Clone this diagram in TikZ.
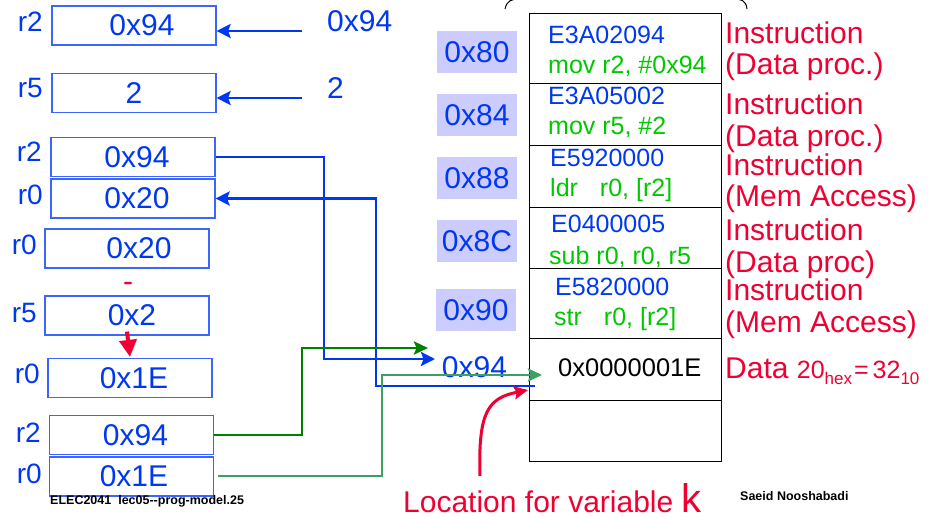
\documentclass[tikz,border=0pt]{standalone}
\usepackage{fontspec}
\setmainfont{Liberation Sans}
\usetikzlibrary{arrows.meta}
\definecolor{tblue}{RGB}{0,56,240}
\definecolor{bblue}{RGB}{60,100,255}
\definecolor{tgreen}{RGB}{0,200,0}
\definecolor{tred}{RGB}{240,0,50}
\definecolor{dgreen}{RGB}{0,128,0}
\definecolor{sgreen}{RGB}{60,160,100}
\definecolor{abg}{RGB}{204,204,255}
\newcommand{\myfs}[1]{\fontsize{#1}{#1}\selectfont}
\tikzset{
  regbox/.style={draw=bblue, line width=1.2pt, minimum width=164pt, minimum height=39pt,
    inner sep=0pt, text=tblue, font=\myfs{30}},
  reglbl/.style={anchor=base east, inner sep=0pt, text=tblue, font=\myfs{28}},
  memrow/.style={draw=black, line width=1.1pt, minimum width=192pt, anchor=north west, inner sep=0pt},
  hexcode/.style={anchor=base west, inner sep=0pt, text=tblue, font=\myfs{25}},
  asmcode/.style={anchor=base west, inner sep=0pt, text=tgreen, font=\myfs{25}},
  kindlbl/.style={anchor=base west, inner sep=0pt, text=tred, font=\myfs{30}},
  addrbox/.style={fill=abg, minimum width=80pt, minimum height=42pt, inner sep=0pt, text=tblue, font=\myfs{30}},
  bwire/.style={draw=tblue, line width=2.8pt, -{Stealth[length=14pt,width=14pt,inset=2.5pt]}},
  gwire/.style={line width=2.8pt, -{Stealth[length=14pt,width=13pt,inset=2.5pt]}},
}
\begin{document}
\begin{tikzpicture}[x=1pt,y=-1pt]
\useasboundingbox (0,0) rectangle (928,518);

% top arc (cut off)
\draw[line width=1pt] (505,9) .. controls (507,0) and (512,-1) .. (520,-1) -- (733,-1) .. controls (741,-1) and (746,0) .. (747,9);

% register boxes
\node[regbox] (r1) at (134,25.5) {\hspace*{16pt}0x94};
\node[regbox] (r2) at (134,93) {2};
\node[regbox] (r3) at (133,157) {\hspace*{8pt}0x94};
\node[regbox] (r4) at (133,198.5) {\hspace*{8pt}0x20};
\node[regbox] (r5) at (127,248.5) {\hspace*{24pt}0x20};
\node[regbox] (r6) at (127,315.5) {\hspace*{10pt}0x2};
\node[regbox] (r7) at (130,378) {\hspace*{8pt}0x1E};
\node[regbox] (r8) at (131.5,435) {\hspace*{8pt}0x94};
\node[regbox] (r9) at (131.5,476.5) {\hspace*{5pt}0x1E};

\node[reglbl] (l1) at (43,32) {r2};
\node[reglbl] (l2) at (43,98) {r5};
\node[reglbl] (l3) at (42,162) {r2};
\node[reglbl] (l4) at (43,205) {r0};
\node[reglbl] (l5) at (37,255) {r0};
\node[reglbl] (l6) at (37,323) {r5};
\node[reglbl] (l7) at (40,383) {r0};
\node[reglbl] (l8) at (41,442) {r2};
\node[reglbl] (l9) at (42,483) {r0};

% immediate inputs
\node[anchor=base west, inner sep=0pt, text=tblue, font=\myfs{30}] (in1) at (327,32) {0x94};
\node[anchor=base west, inner sep=0pt, text=tblue, font=\myfs{30}] (in2) at (327,99) {2};
\coordinate (c1) at (302,31);
\coordinate (c2) at (302,98);
\draw[bwire] (c1) -- (c1 -| r1.east);
\draw[bwire] (c2) -- (c2 -| r2.east);

% subtraction
\node[anchor=base, inner sep=0pt, text=tred, font=\myfs{30}] (minus) at (128,292) {-};
\draw[tred, line width=4pt, -{Triangle[length=17pt,width=17pt]}] ([yshift=4pt]r6.south) -- ([yshift=1pt]r7.north);

% memory
\node[memrow, minimum height=70pt] (m1) at (529,13) {};
\node[memrow, minimum height=62pt] (m2) at (529,83) {};
\node[memrow, minimum height=62pt] (m3) at (529,145) {};
\node[memrow, minimum height=61pt] (m4) at (529,207) {};
\node[memrow, minimum height=70pt] (m5) at (529,268) {};
\node[memrow, minimum height=62pt] (m6) at (529,338) {};
\node[memrow, minimum height=61pt] (m7) at (529,400) {};

\node[hexcode] (h1) at (548,44) {E3A02094};
\node[asmcode] (s1) at (548,74) {mov r2, \#0x94};
\node[hexcode] (h2) at (548,105) {E3A05002};
\node[asmcode] (s2) at (548,135) {mov r5, \#2};
\node[hexcode] (h3) at (550,167) {E5920000};
\node[asmcode] (s3) at (550,197) {ldr\hspace{22pt}r0, [r2]};
\node[hexcode] (h4) at (551,233) {E0400005};
\node[asmcode] (s4) at (549,265) {sub r0, r0, r5};
\node[hexcode] (h5) at (555,295) {E5820000};
\node[asmcode] (s5) at (554,326) {str\hspace{22pt}r0, [r2]};
\node[anchor=base west, inner sep=0pt, font=\myfs{25.5}] (d6) at (558,376) {0x0000001E};

% addresses
\node[addrbox] (a80) at (477,52.5) {0x80};
\node[addrbox] (a84) at (477,115.5) {0x84};
\node[addrbox] (a88) at (477,178) {0x88};
\node[addrbox] (a8C) at (477,241) {0x8C};
\node[addrbox] (a90) at (476,310) {0x90};
\node[anchor=base, inner sep=0pt, text=tblue, font=\myfs{30}] (a94) at (474.5,377) {0x94};

% kind labels
\node[kindlbl] (k1a) at (725,44) {Instruction};
\node[kindlbl] (k1b) at (725,75) {(Data proc.)};
\node[kindlbl] (k2a) at (725,115) {Instruction};
\node[kindlbl] (k2b) at (725,147) {(Data proc.)};
\node[kindlbl] (k3a) at (725,176) {Instruction};
\node[kindlbl] (k3b) at (725,207) {(Mem Access)};
\node[kindlbl] (k4a) at (725,241) {Instruction};
\node[kindlbl] (k4b) at (725,273) {(Data proc)};
\node[kindlbl] (k5a) at (725,301) {Instruction};
\node[kindlbl] (k5b) at (725,332) {(Mem Access)};
\node[kindlbl] (k6) at (725,378) {Data \myfs{25}20\raisebox{-6pt}{\myfs{17}hex}\hspace{2pt}=\hspace{4pt}32\raisebox{-6pt}{\myfs{17}10}};

% wires
\coordinate (w1) at (324,359);
\coordinate (t1) at (435,359);
\draw[bwire] (r3.east) -| (w1) -- (t1);

\coordinate (w2s) at (535,386);
\coordinate (w2) at (376,386);
\draw[bwire] (w2s) -- (w2) |- (r4.east);

\coordinate (w3) at (302,348);
\coordinate (t3) at (428,348);
\draw[gwire, dgreen] (r8.east) -| (w3) -- (t3);

\coordinate (w4s) at (218,476);
\coordinate (w4) at (382,375);
\coordinate (t4) at (542,375);
\draw[gwire, sgreen] (w4s) -| (w4) -- (t4);

% location label
\node[anchor=base west, inner sep=0pt, text=tred, font=\myfs{30}] (loc) at (403,512) {Location for variable \myfs{40}k};
\coordinate (rc1) at (480,476);
\coordinate (rc2) at (528,390);
\draw[tred, line width=3pt, -{Stealth[length=14pt,width=13pt,inset=2.5pt]}] (rc1) .. controls (478,412) and (488,398) .. (rc2);

% footers
\node[anchor=base west, inner sep=0pt, font=\bfseries\myfs{12.5}] (foot1) at (50,504) {ELEC2041\ \ lec05-{}-prog-model.25};
\node[anchor=base west, inner sep=0pt, font=\bfseries\myfs{12.5}] (foot2) at (740,500) {Saeid Nooshabadi};
\end{tikzpicture}
\end{document}
